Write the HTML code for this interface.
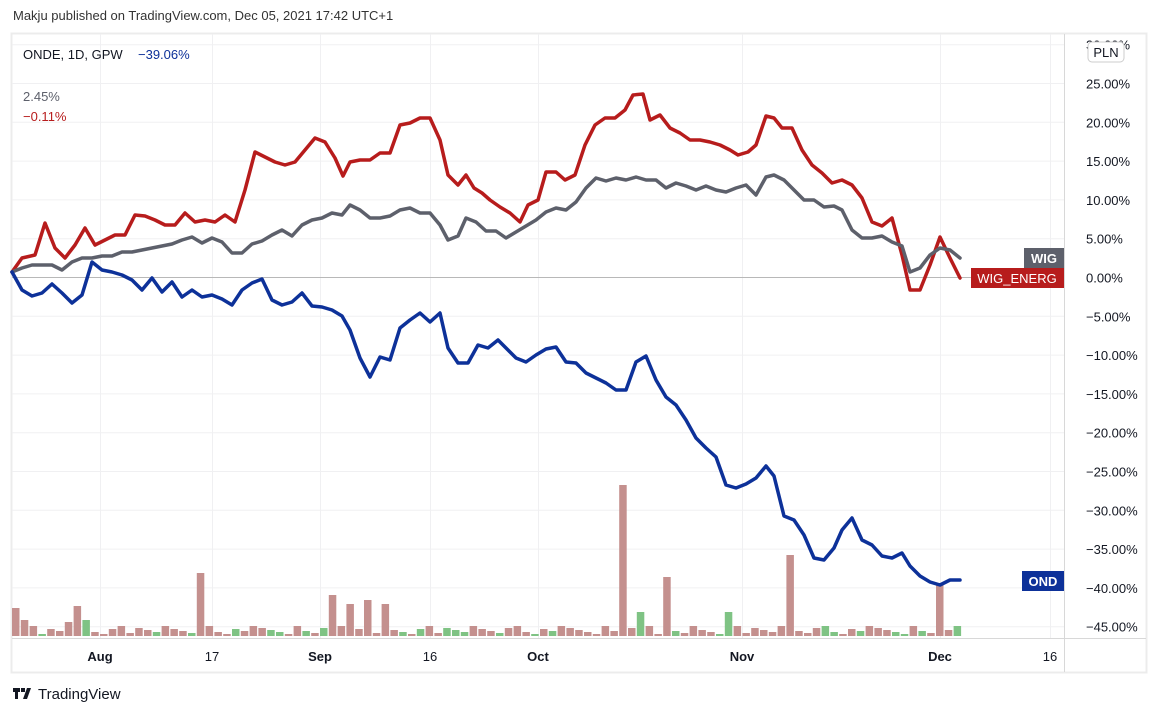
<!DOCTYPE html>
<html><head><meta charset="utf-8"><style>
body{margin:0;background:#fff;width:1158px;height:716px;overflow:hidden;font-family:"Liberation Sans",sans-serif}
</style></head><body>
<svg width="1158" height="716" xmlns="http://www.w3.org/2000/svg" font-family="Liberation Sans, sans-serif">
<text x="13" y="20" font-size="13" fill="#333">Makju published on TradingView.com, Dec 05, 2021 17:42 UTC+1</text>
<rect x="11.5" y="33.5" width="1135" height="639" fill="#fff" stroke="#ececec" stroke-width="2"/>
<g stroke="#f0f0f2" stroke-width="1" id="grid"></g>
<line x1="1064.5" y1="34" x2="1064.5" y2="672" stroke="#d8d8d8"/>
<line x1="12" y1="638.5" x2="1146" y2="638.5" stroke="#d8d8d8"/>
<line x1="12" y1="277.5" x2="1064" y2="277.5" stroke="#b8b8b8"/>
<g id="vol"></g>
<g fill="none" stroke-width="3.5" stroke-linejoin="round" stroke-linecap="round">
<polyline stroke="#b71c1c" points="12,272 22,258 35,255 45,223 55,248 65,258 75,245 85,228 95,245 105,240 115,235 125,235 135,215 145,216 155,220 165,225 175,225 185,213 195,222 205,220 215,222 225,215 235,222 245,190 255,152 265,157 275,162 285,165 295,162 305,150 315,138 325,142 335,158 343,176 350,162 360,160 370,160 380,153 390,153 400,125 410,123 420,118 430,118 440,140 448,175 458,185 466,175 474,188 482,193 490,200 500,207 510,213 520,222 528,205 538,200 546,172 556,172 565,180 575,175 585,145 595,125 605,118 615,118 625,110 633,95 643,94 650,120 660,115 670,128 680,133 690,140 700,140 710,142 720,145 730,150 738,155 748,152 756,145 766,116 774,118 782,128 792,128 802,150 812,165 822,173 832,183 842,180 852,185 862,198 872,222 882,226 892,218 902,255 910,290 920,290 930,265 940,237 950,258 960,278"/>
<polyline stroke="#5d606b" points="12,272 22,268 32,265 42,265 52,265 62,270 72,262 82,258 92,258 102,256 112,256 122,252 132,252 142,250 152,248 162,246 172,244 182,240 192,237 202,243 212,238 222,242 232,253 242,253 252,244 262,241 272,235 282,230 292,236 302,225 312,220 322,218 332,213 342,215 350,205 360,210 370,218 380,218 390,216 400,210 410,208 420,213 430,213 440,225 448,240 458,236 466,218 476,222 486,231 496,231 506,238 516,232 526,226 536,220 546,212 556,208 566,210 576,202 586,188 596,178 606,181 616,178 626,180 636,177 646,180 656,180 666,188 676,183 686,186 696,190 706,186 716,190 726,192 736,188 746,185 756,195 766,177 774,175 784,180 794,190 804,200 814,200 824,207 834,206 842,210 852,230 862,238 872,238 882,236 892,242 902,246 910,272 920,268 930,255 940,248 950,250 960,258"/>
<polyline stroke="#0d3199" points="12,272 22,290 32,296 42,293 52,284 62,293 72,303 82,295 92,262 102,270 112,272 122,275 132,280 142,290 152,278 162,292 172,282 182,297 192,290 202,297 212,295 222,299 232,305 242,290 252,283 262,279 272,300 282,305 292,302 302,293 312,306 322,307 332,310 342,316 350,330 360,358 370,377 380,357 390,360 400,328 410,320 420,313 430,322 440,313 448,348 458,363 468,363 478,345 488,348 498,340 506,348 516,358 526,362 536,355 546,349 556,347 566,362 576,363 586,373 596,378 606,383 616,390 626,390 636,362 646,356 656,380 666,397 676,405 686,420 696,438 706,448 716,457 726,485 736,488 746,484 756,478 766,466 774,476 784,516 794,520 804,535 814,558 824,560 834,548 842,530 852,518 862,540 872,545 882,556 892,558 902,553 910,566 920,576 930,582 940,585 950,580 960,580"/>
</g>
<g font-size="13" fill="#131722" id="yax"></g>
<rect x="1088" y="42" width="36" height="20" rx="4" fill="#fff" stroke="#ccc"/>
<text x="1106" y="57" font-size="13" fill="#131722" text-anchor="middle">PLN</text>
<rect x="1024" y="248" width="40" height="20" fill="#5d606b"/>
<text x="1044" y="263" font-size="13" font-weight="bold" fill="#fff" text-anchor="middle">WIG</text>
<rect x="971" y="268" width="93" height="20" fill="#b71c1c"/>
<text x="1017" y="283" font-size="13" fill="#fff" text-anchor="middle">WIG_ENERG</text>
<rect x="1022" y="571" width="42" height="20" fill="#0d3199"/>
<text x="1043" y="586" font-size="13" font-weight="bold" fill="#fff" text-anchor="middle">OND</text>
<g font-size="13" fill="#131722" text-anchor="middle">
<text x="100" y="661" font-weight="bold">Aug</text><text x="212" y="661">17</text>
<text x="320" y="661" font-weight="bold">Sep</text><text x="430" y="661">16</text>
<text x="538" y="661" font-weight="bold">Oct</text><text x="742" y="661" font-weight="bold">Nov</text>
<text x="940" y="661" font-weight="bold">Dec</text><text x="1050" y="661">16</text>
</g>
<text x="23" y="59" font-size="13" fill="#131722">ONDE, 1D, GPW</text>
<text x="138" y="59" font-size="13" fill="#0d3199">−39.06%</text>
<text x="23" y="101" font-size="13" fill="#5d606b">2.45%</text>
<text x="23" y="121" font-size="13" fill="#b71c1c">−0.11%</text>
<g fill="#131722"><rect x="13" y="688" width="7" height="4"/><rect x="15" y="688" width="3" height="11"/><rect x="21" y="688" width="4" height="4"/><polygon points="27,688 31,688 27,699 23,699"/></g>
<text x="38" y="699" font-size="15" fill="#131722">TradingView</text>
</svg>
<script>
const ns="http://www.w3.org/2000/svg";
const g=document.getElementById('grid');
for(let p=-45;p<=30;p+=5){const y=277.5-p*7.76;const l=document.createElementNS(ns,'line');l.setAttribute('x1',12);l.setAttribute('x2',1064);l.setAttribute('y1',y);l.setAttribute('y2',y);g.appendChild(l);
const t=document.createElementNS(ns,'text');t.setAttribute('x',1086);t.setAttribute('y',y+5);t.textContent=(p<0?'−':'')+Math.abs(p).toFixed(2)+'%';document.getElementById('yax').appendChild(t);}
[100,212,320,430,538,742,940,1050].forEach(x=>{const l=document.createElementNS(ns,'line');l.setAttribute('x1',x+.5);l.setAttribute('x2',x+.5);l.setAttribute('y1',34);l.setAttribute('y2',638);g.appendChild(l);});
const tops={0:608,1:620,6:622,7:606,8:620,21:573,36:595,38:604,40:600,42:604,69:485,71:612,74:577,81:612,88:555,105:585};
const greens=[3,8,16,20,25,29,30,33,35,44,46,49,50,51,55,59,61,71,75,80,81,92,93,96,100,101,103,107];
const v=document.getElementById('vol');
for(let i=0;i<108;i++){const x=12+8.8*i;let top=tops[i]||(628+((i*37)%7));if(!tops[i]&&i%5==2)top=626;
const r=document.createElementNS(ns,'rect');r.setAttribute('x',x);r.setAttribute('width',7.5);r.setAttribute('y',top);r.setAttribute('height',636-top);r.setAttribute('fill',greens.includes(i)?'#7fc384':'#c4908e');v.appendChild(r);}
</script>
</body></html>
